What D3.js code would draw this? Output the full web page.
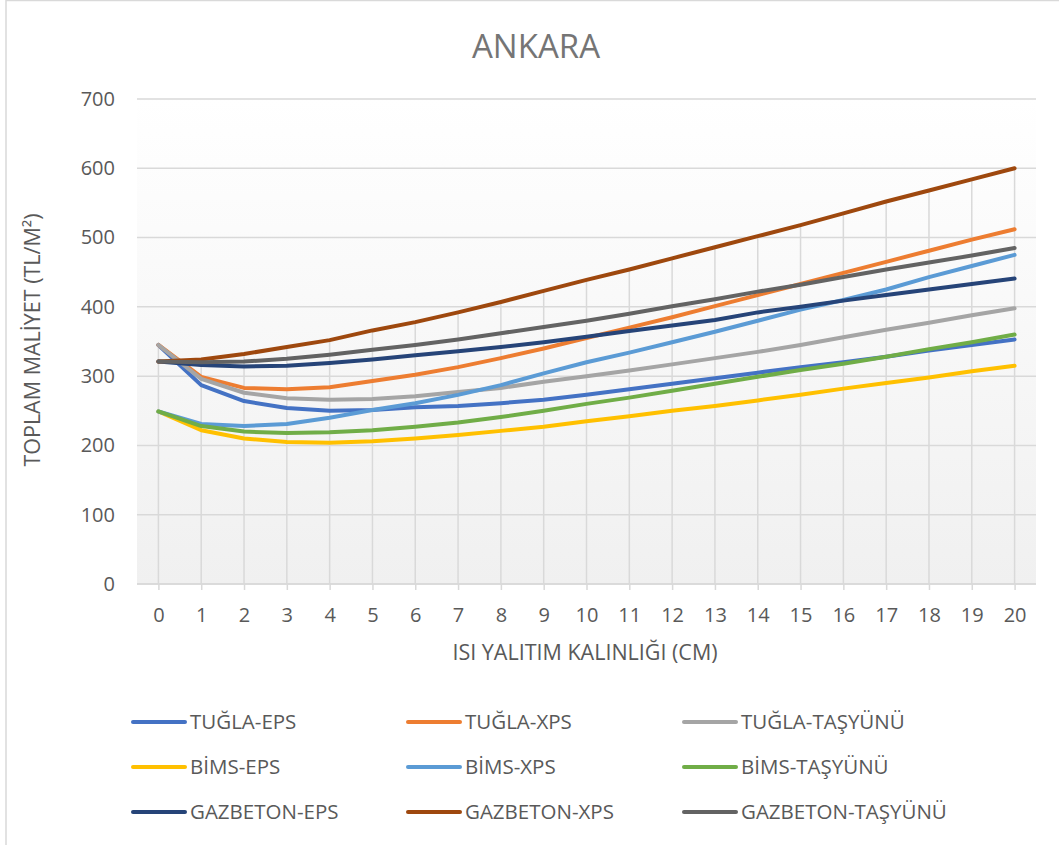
<!DOCTYPE html>
<html>
<head>
<meta charset="utf-8">
<script src="https://cdn.jsdelivr.net/npm/d3@7"></script>
<style>
  body { margin: 0; background: #fff; }
  svg text { font-family: "Open Sans", "Noto Sans", sans-serif; fill: #595959; }
</style>
</head>
<body>
<div id="chart"></div>
<script>
// isı yalıtım kalınlığı (cm)
const thickness = d3.range(0, 21);

const tuglaEps     = [345, 287, 264, 254, 250, 251, 255, 257, 261, 266, 273, 281, 289, 297, 305, 313, 320, 328, 337, 345, 353];
const tuglaXps     = [345, 299, 283, 281, 284, 293, 302, 313, 326, 340, 355, 370, 385, 401, 417, 433, 449, 465, 481, 497, 512];
const tuglaTasyunu = [345, 296, 276, 268, 266, 267, 271, 277, 283, 292, 300, 308, 317, 326, 335, 345, 356, 367, 377, 388, 398];
const bimsEps      = [249, 222, 210, 205, 204, 206, 210, 215, 221, 227, 235, 242, 250, 257, 265, 273, 282, 290, 298, 307, 315];
const bimsXps      = [249, 231, 228, 231, 240, 251, 261, 273, 287, 304, 320, 334, 349, 364, 380, 396, 410, 425, 443, 459, 475];
const bimsTasyunu  = [249, 228, 220, 218, 219, 222, 227, 233, 241, 250, 260, 269, 279, 289, 299, 309, 318, 328, 339, 349, 360];
const gazEps       = [321, 316, 314, 315, 319, 324, 330, 336, 342, 349, 357, 365, 373, 381, 392, 400, 409, 417, 425, 433, 441];
const gazXps       = [321, 324, 332, 342, 352, 366, 378, 392, 407, 423, 439, 454, 470, 486, 502, 518, 535, 552, 568, 584, 600];
const gazTasyunu   = [321, 320, 321, 325, 331, 338, 345, 353, 362, 371, 380, 390, 401, 411, 422, 432, 443, 454, 464, 474, 485];

const seriesNames  = ["TUĞLA-EPS", "TUĞLA-XPS", "TUĞLA-TAŞYÜNÜ", "BİMS-EPS", "BİMS-XPS", "BİMS-TAŞYÜNÜ", "GAZBETON-EPS", "GAZBETON-XPS", "GAZBETON-TAŞYÜNÜ"];
const seriesValues = [tuglaEps, tuglaXps, tuglaTasyunu, bimsEps, bimsXps, bimsTasyunu, gazEps, gazXps, gazTasyunu];
const colors = ["#4472C4", "#ED7D31", "#A5A5A5", "#FFC000", "#5B9BD5", "#70AD47", "#264478", "#9E480E", "#636363"];
const yTicks = [0, 100, 200, 300, 400, 500, 600, 700];

const width = 1059, height = 845;
const plot = { left: 137, right: 1036, top: 99, bottom: 584 };

const svg = d3.select("#chart")
    .append("svg")
    .attr("width", width)
    .attr("height", height);

// chart area border (top + left visible)
svg.append("line").attr("x1", 6).attr("x2", width).attr("y1", 0.5).attr("y2", 0.5)
    .attr("stroke", "#d9d9d9").attr("stroke-width", 1.5);
svg.append("line").attr("x1", 6).attr("x2", 6).attr("y1", 0).attr("y2", height)
    .attr("stroke", "#d9d9d9").attr("stroke-width", 1.5);

const x = d3.scalePoint()
    .domain(thickness)
    .range([plot.left, plot.right])
    .padding(0.5);

const y = d3.scaleLinear()
    .domain([0, 700])
    .range([plot.bottom, plot.top]);

// plot area gradient
const grad = svg.append("defs").append("linearGradient")
    .attr("id", "plotBg").attr("x1", 0).attr("x2", 0).attr("y1", 0).attr("y2", 1);
grad.append("stop").attr("offset", "0%").attr("stop-color", "#ffffff");
grad.append("stop").attr("offset", "100%").attr("stop-color", "#f0f0f0");

svg.append("rect")
    .attr("x", plot.left).attr("y", plot.top)
    .attr("width", plot.right - plot.left).attr("height", plot.bottom - plot.top)
    .attr("fill", "url(#plotBg)");

// horizontal gridlines
svg.append("g")
    .selectAll("line")
    .data(yTicks)
    .enter().append("line")
    .attr("x1", plot.left).attr("x2", plot.right)
    .attr("y1", d => y(d)).attr("y2", d => y(d))
    .attr("stroke", "#d9d9d9").attr("stroke-width", 1.5);

// drop lines (from highest value down to the axis)
svg.append("g")
    .selectAll("line")
    .data(thickness)
    .enter().append("line")
    .attr("x1", d => x(d)).attr("x2", d => x(d))
    .attr("y1", (d, i) => y(d3.max(seriesValues, s => s[i])))
    .attr("y2", y(0))
    .attr("stroke", "#d9d9d9").attr("stroke-width", 1.5);

// x axis
const xAxis = svg.append("g")
    .attr("transform", `translate(0, ${y(0)})`)
    .call(d3.axisBottom(x).tickSize(6).tickPadding(18));
xAxis.select(".domain").attr("stroke", "#d9d9d9").attr("stroke-width", 1.5)
    .attr("d", `M${plot.left},0H${plot.right}`);
xAxis.selectAll(".tick line").attr("stroke", "#d9d9d9").attr("stroke-width", 1.5);
xAxis.selectAll(".tick text").attr("font-size", 20).style("fill", "#595959")
    .attr("font-family", "Open Sans");

// y axis
const yAxis = svg.append("g")
    .attr("transform", `translate(${plot.left}, 0)`)
    .call(d3.axisLeft(y).tickValues(yTicks).tickSize(0).tickPadding(22));
yAxis.select(".domain").remove();
yAxis.selectAll(".tick text").attr("font-size", 20).style("fill", "#595959")
    .attr("font-family", "Open Sans");

// lines
const line = d3.line()
    .x((d, i) => x(thickness[i]))
    .y(d => y(d));

svg.append("g")
    .selectAll("path")
    .data(seriesValues)
    .enter().append("path")
    .attr("d", line)
    .attr("fill", "none")
    .attr("stroke", (d, i) => colors[i])
    .attr("stroke-width", 4)
    .attr("stroke-linejoin", "round")
    .attr("stroke-linecap", "round");

// titles
svg.append("text")
    .attr("x", 536).attr("y", 58)
    .attr("text-anchor", "middle")
    .attr("font-size", 33)
    .style("fill", "#757575")
    .text("ANKARA");

svg.append("text")
    .attr("x", 585).attr("y", 660)
    .attr("text-anchor", "middle")
    .attr("font-size", 21.5)
    .text("ISI YALITIM KALINLIĞI (CM)");

svg.append("text")
    .attr("transform", `translate(40, 340) rotate(-90)`)
    .attr("text-anchor", "middle")
    .attr("font-size", 21.5)
    .text("TOPLAM MALİYET (TL/M²)");

// legend
const legendCols = [131, 406, 682];
const legendRows = [722, 767, 812];

const legend = svg.append("g")
    .selectAll("g")
    .data(seriesNames)
    .enter().append("g")
    .attr("transform", (d, i) => `translate(${legendCols[i % 3]}, ${legendRows[Math.floor(i / 3)]})`);

legend.append("line")
    .attr("x1", 2).attr("x2", 54)
    .attr("stroke", (d, i) => colors[i])
    .attr("stroke-width", 4)
    .attr("stroke-linecap", "round");

legend.append("text")
    .attr("x", 59).attr("dy", "0.36em")
    .attr("font-size", 20.5)
    .text(d => d);
</script>
</body>
</html>
